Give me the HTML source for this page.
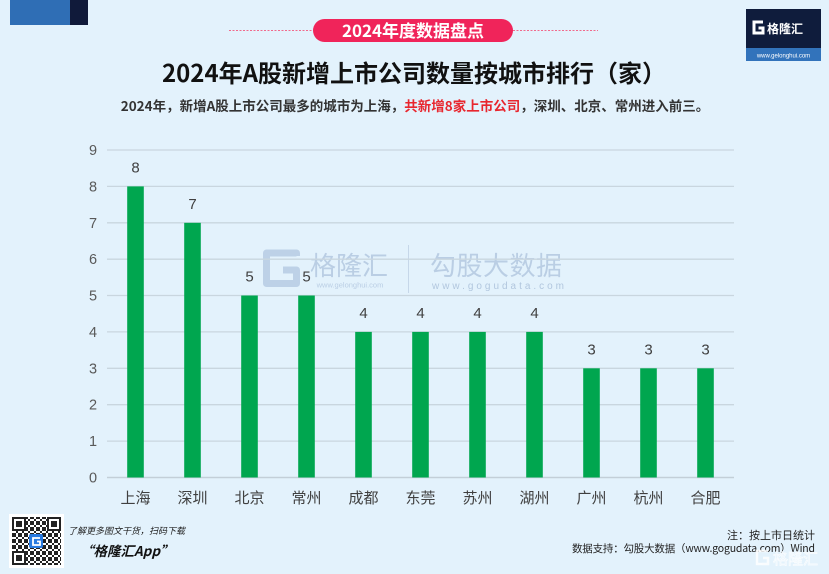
<!DOCTYPE html>
<html><head><meta charset="utf-8">
<style>
html,body{margin:0;padding:0;}
body{width:829px;height:574px;overflow:hidden;background:#e3f2fc;font-family:"Liberation Sans","Noto Sans CJK SC",sans-serif;}
svg{display:block;}
text{font-family:"Liberation Sans","Noto Sans CJK SC",sans-serif;}
.cjk{font-family:"Noto Sans CJK SC","Liberation Sans",sans-serif;}
</style></head>
<body>
<svg width="829" height="574" viewBox="0 0 829 574" xmlns="http://www.w3.org/2000/svg">
<defs>
<pattern id="qr" x="12" y="517" width="6" height="6" patternUnits="userSpaceOnUse">
<rect x="0" y="0" width="2" height="2" fill="#222"/>
<rect x="4" y="2" width="2" height="2" fill="#222"/>
<rect x="2" y="4" width="2" height="2" fill="#222"/>
<rect x="0" y="4" width="2" height="2" fill="#222"/>
<rect x="2" y="0" width="2" height="2" fill="#222"/>
</pattern>
</defs>
<rect width="829" height="574" fill="#e3f2fc"/>

<!-- top-left block -->
<rect x="10" y="0" width="60" height="25" fill="#2f6eb5"/>
<rect x="70" y="0" width="18" height="25" fill="#101a3a"/>

<!-- top-right logo -->
<rect x="746" y="9" width="75" height="40" fill="#0f1c3c"/>
<rect x="746" y="48" width="75" height="13" fill="#3273bb"/>
<path d="M763 22 H754 V33 H763 V28 H758.5" fill="none" stroke="#fff" stroke-width="3"/>
<text x="767" y="33" font-size="12" font-weight="bold" fill="#fff" class="cjk">格隆汇</text>
<text x="783.5" y="57.5" font-size="6" fill="#fff" text-anchor="middle">www.gelonghui.com</text>

<!-- pill -->
<line x1="229" y1="30.5" x2="313" y2="30.5" stroke="#f06a8c" stroke-width="1" stroke-dasharray="2,1.5"/>
<line x1="513" y1="30.5" x2="598" y2="30.5" stroke="#f06a8c" stroke-width="1" stroke-dasharray="2,1.5"/>
<rect x="313" y="19" width="200" height="23" rx="11.5" fill="#f0245a"/>
<text x="413" y="37" font-size="17" font-weight="bold" fill="#fff" text-anchor="middle" class="cjk">2024年度数据盘点</text>

<!-- title -->
<text x="414" y="82" font-size="24" font-weight="bold" fill="#111" text-anchor="middle" class="cjk">2024年A股新增上市公司数量按城市排行（家）</text>
<text x="415" y="111" font-size="13.5" font-weight="bold" fill="#333" text-anchor="middle" class="cjk">2024年，新增A股上市公司最多的城市为上海，<tspan fill="#e8262e">共新增8家上市公司</tspan>，深圳、北京、常州进入前三。</text>

<!-- watermark -->
<g opacity="0.85">
<path d="M296.5 256 V253 H266.5 V283.5 H296.5 V270 H283" fill="none" stroke="#b7cce4" stroke-width="7" stroke-linejoin="round"/>
<text x="310" y="275" font-size="26" fill="#b3c8e0" class="cjk">格隆汇</text>
<text x="350" y="287.5" font-size="7.5" fill="#b3c8e0" text-anchor="middle">www.gelonghui.com</text>
<line x1="408.5" y1="245" x2="408.5" y2="293" stroke="#c2d3e6" stroke-width="1"/>
<text x="430" y="275" font-size="26" fill="#b3c8e0" class="cjk" textLength="132">勾股大数据</text>
<text x="432" y="289" font-size="10" fill="#a9bfd9" textLength="132">www.gogudata.com</text>
</g>

<!-- gridlines -->
<g stroke="#c9d6df" stroke-width="1.3">
<line x1="107" y1="150" x2="734" y2="150"/>
<line x1="107" y1="186.4" x2="734" y2="186.4"/>
<line x1="107" y1="222.8" x2="734" y2="222.8"/>
<line x1="107" y1="259.2" x2="734" y2="259.2"/>
<line x1="107" y1="295.5" x2="734" y2="295.5"/>
<line x1="107" y1="331.9" x2="734" y2="331.9"/>
<line x1="107" y1="368.3" x2="734" y2="368.3"/>
<line x1="107" y1="404.7" x2="734" y2="404.7"/>
<line x1="107" y1="441.1" x2="734" y2="441.1"/>
<line x1="107" y1="477.5" x2="734" y2="477.5" stroke="#c3cfd8" stroke-width="1.6"/>
</g>

<!-- y labels -->
<g font-size="14.5" fill="#595959" text-anchor="middle">
<text x="93" y="155">9</text>
<text x="93" y="191.4">8</text>
<text x="93" y="227.8">7</text>
<text x="93" y="264.2">6</text>
<text x="93" y="300.5">5</text>
<text x="93" y="336.9">4</text>
<text x="93" y="373.3">3</text>
<text x="93" y="409.7">2</text>
<text x="93" y="446.1">1</text>
<text x="93" y="482.5">0</text>
</g>

<!-- bars -->
<g fill="#00a64f">
<rect x="127.2" y="186.4" width="16.6" height="291.1"/>
<rect x="184.2" y="222.8" width="16.6" height="254.7"/>
<rect x="241.2" y="295.5" width="16.6" height="182"/>
<rect x="298.2" y="295.5" width="16.6" height="182"/>
<rect x="355.2" y="331.9" width="16.6" height="145.6"/>
<rect x="412.2" y="331.9" width="16.6" height="145.6"/>
<rect x="469.2" y="331.9" width="16.6" height="145.6"/>
<rect x="526.2" y="331.9" width="16.6" height="145.6"/>
<rect x="583.2" y="368.3" width="16.6" height="109.2"/>
<rect x="640.2" y="368.3" width="16.6" height="109.2"/>
<rect x="697.2" y="368.3" width="16.6" height="109.2"/>
</g>

<!-- value labels -->
<g font-size="15" fill="#404040" text-anchor="middle">
<text x="135.5" y="172.4">8</text>
<text x="192.5" y="208.8">7</text>
<text x="249.5" y="281.5">5</text>
<text x="306.5" y="281.5">5</text>
<text x="363.5" y="317.9">4</text>
<text x="420.5" y="317.9">4</text>
<text x="477.5" y="317.9">4</text>
<text x="534.5" y="317.9">4</text>
<text x="591.5" y="354.3">3</text>
<text x="648.5" y="354.3">3</text>
<text x="705.5" y="354.3">3</text>
</g>

<!-- x labels -->
<g font-size="15" fill="#404040" text-anchor="middle" class="cjk">
<text x="135.5" y="503">上海</text>
<text x="192.5" y="503">深圳</text>
<text x="249.5" y="503">北京</text>
<text x="306.5" y="503">常州</text>
<text x="363.5" y="503">成都</text>
<text x="420.5" y="503">东莞</text>
<text x="477.5" y="503">苏州</text>
<text x="534.5" y="503">湖州</text>
<text x="591.5" y="503">广州</text>
<text x="648.5" y="503">杭州</text>
<text x="705.5" y="503">合肥</text>
</g>

<!-- QR -->
<rect x="9" y="514" width="55" height="54" fill="#fff"/>
<rect x="12" y="517" width="49" height="48" fill="url(#qr)"/>
<g fill="#fff" stroke="#222" stroke-width="2">
<rect x="13" y="518" width="12" height="12"/>
<rect x="48" y="518" width="12" height="12"/>
<rect x="13" y="552" width="12" height="12"/>
</g>
<g fill="#222">
<rect x="16" y="521" width="6" height="6"/>
<rect x="51" y="521" width="6" height="6"/>
<rect x="16" y="555" width="6" height="6"/>
</g>
<rect x="29" y="534" width="14" height="14" rx="2" fill="#2a7be0"/>
<path d="M40 538 H33 V545 H40 V541.5 H37" fill="none" stroke="#fff" stroke-width="1.8"/>
<text x="68" y="534" font-size="9" font-style="italic" fill="#222" class="cjk">了解更多图文干货，扫码下载</text>
<text x="80" y="556" font-size="13.5" font-style="italic" font-weight="bold" fill="#111" class="cjk">“格隆汇App”</text>

<!-- footer right -->
<text x="815" y="539" font-size="11" fill="#222" text-anchor="end" class="cjk">注：按上市日统计</text>
<text x="815" y="552" font-size="10.5" fill="#222" text-anchor="end" class="cjk" textLength="243">数据支持：勾股大数据（www.gogudata.com）Wind</text>
<g opacity="0.8">
<path d="M768 551 H757 V564 H768 V558 H763" fill="none" stroke="#fff" stroke-width="2.5"/>
<text x="773" y="564" font-size="15" fill="none" stroke="#fff" stroke-width="0.7" class="cjk">格隆汇</text>
</g>
</svg>
</body></html>
